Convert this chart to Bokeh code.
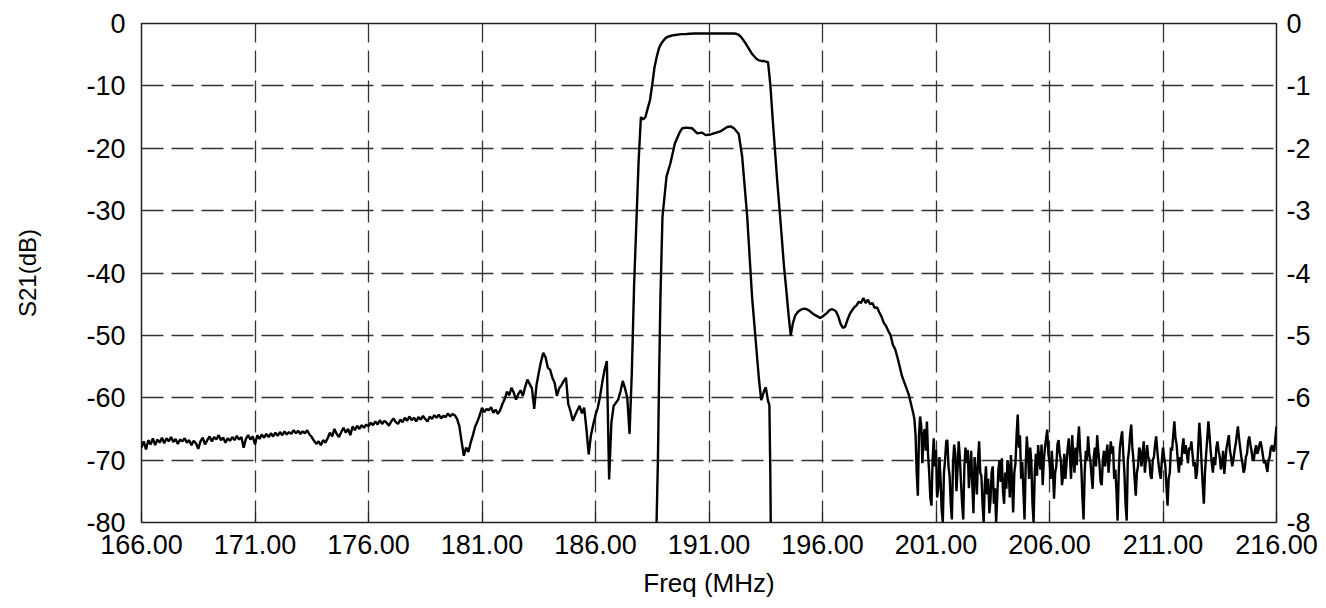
import numpy as np
from bokeh.plotting import figure
from bokeh.models import Range1d, LinearAxis, FixedTicker, PrintfTickFormatter
from bokeh.embed import file_html
from bokeh.resources import INLINE

# ---------------- data ----------------
x_ticks = [166, 171, 176, 181, 186, 191, 196, 201, 206, 211, 216]
y_ticks = [0, -10, -20, -30, -40, -50, -60, -70, -80]
y2_ticks = [0, -1, -2, -3, -4, -5, -6, -7, -8]

# wide sweep S21 (dB): one row per MHz, 0.1 MHz steps, 166.0 ... 199.9
r166 = [-68.0, -67.0, -68.3, -66.8, -67.5, -66.5, -67.6, -66.7, -67.2, -66.4]
r167 = [-67.3, -66.5, -67.0, -66.3, -67.1, -66.6, -67.4, -66.7, -67.0, -66.5]
r168 = [-67.2, -66.8, -67.6, -66.9, -67.3, -68.2, -67.0, -66.4, -67.5, -66.8]
r169 = [-66.2, -67.0, -66.3, -66.7, -66.0, -66.8, -66.4, -67.2, -66.5, -66.9]
r170 = [-66.3, -66.8, -66.1, -66.7, -66.3, -68.0, -66.6, -66.0, -66.7, -66.2]
r171 = [-67.5, -66.0, -66.6, -65.9, -66.4, -65.8, -66.3, -65.7, -66.2, -65.6]
r172 = [-66.1, -65.5, -66.0, -65.4, -65.9, -65.5, -65.8, -65.2, -65.7, -65.3]
r173 = [-65.8, -65.4, -65.7, -65.2, -65.9, -66.3, -66.9, -67.4, -67.0, -67.6]
r174 = [-66.8, -67.2, -66.5, -65.6, -66.2, -65.0, -65.8, -66.3, -65.5, -64.8]
r175 = [-65.6, -65.0, -66.0, -64.6, -65.2, -64.5, -65.0, -64.4, -64.8, -64.3]
r176 = [-64.6, -64.0, -64.4, -63.8, -64.3, -63.6, -64.2, -63.7, -64.0, -64.5]
r177 = [-63.8, -63.3, -63.9, -64.2, -63.5, -63.9, -63.2, -63.7, -63.0, -63.6]
r178 = [-63.2, -63.8, -63.1, -63.5, -62.9, -63.4, -63.8, -63.0, -63.4, -62.8]
r179 = [-63.2, -62.7, -63.3, -62.9, -63.1, -62.5, -63.0, -62.6, -62.8, -63.4]
r180 = [-64.5, -67.0, -69.3, -68.0, -68.7, -67.2, -66.0, -64.6, -63.8, -62.8]
r181 = [-61.6, -62.3, -61.8, -62.0, -61.5, -62.4, -61.9, -62.6, -62.0, -61.0]
r182 = [-60.2, -59.0, -59.6, -58.4, -59.2, -60.3, -59.4, -58.8, -59.7, -58.3]
r183 = [-57.1, -57.8, -58.5, -61.8, -58.0, -56.0, -54.2, -52.8, -53.5, -55.2]
r184 = [-55.5, -56.8, -57.6, -59.7, -58.5, -58.0, -57.3, -56.8, -61.0, -62.2]
r185 = [-63.7, -62.8, -62.0, -61.3, -62.5, -61.6, -65.0, -69.1, -66.0, -64.3]
r186 = [-62.8, -61.6, -59.8, -57.5, -55.5, -54.1, -73.1, -64.0, -61.3, -60.8]
r187 = [-60.3, -59.0, -57.3, -58.5, -60.0, -65.8, -56.0, -42.0, -32.0, -22.0]
r188 = [-15.0, -15.4, -15.0, -13.6, -12.3, -9.8, -7.0, -5.3, -3.9, -3.2]
r189 = [-2.7, -2.3, -2.1, -2.0, -1.9, -1.85, -1.8, -1.75, -1.7, -1.7]
r190 = [-1.7, -1.65, -1.65, -1.6, -1.6, -1.6, -1.6, -1.6, -1.6, -1.6]
r191 = [-1.6, -1.6, -1.6, -1.6, -1.6, -1.6, -1.6, -1.6, -1.6, -1.6]
r192 = [-1.6, -1.6, -1.65, -1.8, -2.1, -2.6, -3.1, -3.7, -4.3, -4.9]
r193 = [-5.3, -5.7, -5.9, -6.0, -6.0, -6.1, -6.2, -9.7, -15.0, -20.0]
r194 = [-25.0, -29.5, -34.0, -38.8, -42.5, -46.5, -50.0, -48.0, -46.8, -46.3]
r195 = [-46.0, -45.8, -45.7, -45.8, -46.0, -46.3, -46.6, -46.8, -47.0, -47.2]
r196 = [-47.0, -46.7, -46.4, -46.0, -45.8, -45.9, -46.2, -47.0, -48.2, -48.8]
r197 = [-48.6, -47.5, -46.6, -46.0, -45.5, -45.2, -44.6, -44.8, -44.0, -44.8]
r198 = [-44.3, -45.0, -44.8, -45.6, -45.5, -46.3, -47.0, -48.0, -48.5, -49.3]
r199 = [-50.0, -51.5, -52.2, -53.5, -55.0, -56.5, -57.5, -58.5, -59.5, -61.0]

# upper stop band S21 (dB): one row per MHz, 0.05 MHz steps, 200.00 ... 216.00
s200 = [-62.5, -63.5, -66.0, -72.0, -75.7, -66.0, -63.0, -64.5, -70.5, -66.0,
        -65.0, -68.5, -63.8, -69.0, -72.0, -76.0, -77.3, -70.0, -66.5, -71.0]
s201 = [-68.4, -76.0, -74.5, -69.5, -73.0, -78.0, -80.0, -72.0, -70.0, -67.0,
        -66.8, -71.0, -72.5, -77.0, -79.5, -70.5, -67.5, -69.0, -75.0, -71.5]
s202 = [-67.0, -69.5, -73.5, -77.0, -79.5, -71.0, -68.0, -70.5, -68.4, -74.5,
        -71.5, -68.5, -74.0, -78.5, -69.5, -72.0, -75.5, -70.0, -67.0, -72.0]
s203 = [-72.5, -77.0, -80.0, -74.0, -71.0, -75.5, -73.0, -78.5, -76.5, -72.0,
        -71.0, -77.0, -74.5, -80.0, -75.7, -71.5, -70.0, -73.5, -69.7, -75.0]
s204 = [-77.0, -72.0, -74.6, -70.0, -71.0, -76.0, -69.2, -73.5, -78.4, -72.0,
        -70.5, -66.0, -62.7, -68.0, -66.0, -73.0, -70.3, -75.0, -79.5, -71.0]
s205 = [-66.2, -69.0, -73.0, -68.0, -70.3, -77.0, -80.0, -72.0, -69.0, -72.5,
        -67.6, -70.0, -71.5, -67.5, -74.0, -70.0, -68.0, -66.5, -65.1, -69.0]
s206 = [-70.3, -73.0, -68.5, -71.5, -76.2, -72.0, -71.0, -67.5, -66.8, -69.0,
        -70.0, -74.0, -72.5, -69.0, -73.0, -70.5, -68.1, -66.5, -69.5, -73.0]
s207 = [-66.0, -69.5, -72.0, -68.0, -70.8, -67.0, -64.6, -68.5, -71.0, -76.0,
        -79.5, -72.0, -68.5, -70.0, -66.2, -69.0, -70.0, -72.5, -74.6, -69.5]
s208 = [-68.0, -71.0, -66.0, -68.5, -70.5, -73.5, -74.0, -70.0, -68.5, -71.0,
        -69.2, -67.5, -72.0, -69.5, -67.0, -69.0, -67.8, -73.0, -71.5, -75.0]
s209 = [-79.7, -72.0, -68.0, -66.5, -65.4, -69.0, -72.0, -77.0, -79.7, -70.0,
        -68.5, -66.0, -64.3, -68.0, -70.0, -73.0, -75.7, -72.0, -71.0, -68.0]
s210 = [-68.5, -71.0, -69.2, -67.0, -72.0, -70.0, -67.6, -69.5, -70.0, -72.5,
        -73.0, -70.0, -69.5, -67.5, -66.2, -68.5, -70.5, -72.0, -73.0, -70.0]
s211 = [-68.0, -69.5, -70.8, -74.0, -77.3, -73.0, -72.0, -68.0, -68.5, -66.0,
        -63.8, -66.5, -67.5, -70.0, -72.0, -69.5, -70.8, -68.0, -66.5, -69.0]
s212 = [-67.6, -69.0, -70.5, -68.0, -68.4, -67.0, -69.0, -71.0, -70.3, -73.0,
        -72.0, -68.0, -64.0, -66.5, -70.5, -74.0, -77.0, -72.0, -69.0, -66.5]
s213 = [-63.8, -66.0, -68.5, -70.5, -72.0, -69.5, -70.8, -68.0, -67.0, -68.5,
        -69.5, -71.5, -70.5, -68.5, -72.2, -70.0, -68.0, -67.0, -66.0, -68.5]
s214 = [-69.5, -71.0, -70.0, -68.5, -67.5, -66.0, -64.6, -66.5, -68.0, -69.5,
        -70.5, -72.0, -71.4, -69.5, -69.0, -67.0, -66.2, -67.5, -68.5, -70.0]
s215 = [-70.0, -68.5, -67.6, -69.0, -68.5, -67.5, -67.0, -68.0, -69.2, -70.5,
        -70.0, -71.0, -71.9, -70.0, -69.5, -68.0, -67.6, -68.5, -68.5, -66.5]
s216 = [-64.6]

pass_rows = [r166, r167, r168, r169, r170, r171, r172, r173, r174, r175,
             r176, r177, r178, r179, r180, r181, r182, r183, r184, r185,
             r186, r187, r188, r189, r190, r191, r192, r193, r194, r195,
             r196, r197, r198, r199]
stop_rows = [s200, s201, s202, s203, s204, s205, s206, s207, s208, s209,
             s210, s211, s212, s213, s214, s215, s216]

low_db = [v for row in pass_rows for v in row]
low_f = [round(166 + 0.1 * i, 2) for i in range(len(low_db))]
stop_db = [v for row in stop_rows for v in row]
stop_f = [round(200 + 0.05 * i, 2) for i in range(len(stop_db))]
wide_f = low_f + stop_f
wide_db = low_db + stop_db

# narrow sweep (second trace)
narrow_f = [188.69, 188.75, 188.80, 188.86, 188.95, 189.13, 189.30, 189.50, 189.70,
            189.82, 190.00, 190.26, 190.48, 190.70, 190.85, 191.05, 191.21, 191.50,
            191.80, 191.95, 192.10, 192.31, 192.46, 192.68, 192.90, 193.05, 193.20,
            193.30, 193.42, 193.50, 193.60, 193.66, 193.70, 193.72]
narrow_db = [-80.0, -70.0, -57.0, -44.0, -31.0, -24.5, -22.4, -19.2, -17.5,
             -16.8, -16.7, -16.8, -17.6, -17.5, -17.9, -17.8, -17.6, -17.3,
             -16.6, -16.5, -16.8, -17.7, -21.3, -30.8, -44.0, -50.5, -57.0,
             -60.4, -59.0, -58.3, -60.5, -61.2, -71.8, -80.0]

# ---------------- figure ----------------
FONT = "Liberation Sans"
p = figure(width=1326, height=608, output_backend="svg", toolbar_location=None,
           x_range=Range1d(166, 216), y_range=Range1d(-80, 0),
           min_border_left=141, min_border_right=50, min_border_top=23,
           min_border_bottom=86)
p.background_fill_color = "white"
p.border_fill_color = "white"
p.outline_line_color = "#222222"
p.outline_line_width = 1.5

p.extra_y_ranges = {"right": Range1d(-8, 0)}

p.xaxis.ticker = FixedTicker(ticks=x_ticks)
p.xaxis.formatter = PrintfTickFormatter(format="%.2f")
p.yaxis.ticker = FixedTicker(ticks=y_ticks)
p.yaxis.formatter = PrintfTickFormatter(format="%d")

ax_r = LinearAxis(y_range_name="right", ticker=FixedTicker(ticks=y2_ticks),
                  formatter=PrintfTickFormatter(format="%d"))
p.add_layout(ax_r, "right")

for ax in [p.xaxis[0], p.yaxis[0], ax_r]:
    ax.axis_line_color = None
    ax.major_label_text_font = FONT
    ax.major_label_text_font_size = "27px"
    ax.major_label_text_color = "black"
    ax.axis_label_text_font = FONT
    ax.axis_label_text_font_style = "normal"
    ax.axis_label_text_color = "black"
    ax.minor_tick_line_color = None
    ax.major_tick_out = 0
    ax.major_tick_in = 0

p.xaxis.major_tick_in = 10
p.xaxis.major_tick_line_color = "#222222"
p.xaxis.major_tick_line_width = 1.2
p.xaxis.major_label_standoff = 12
p.xaxis.axis_label = "Freq (MHz)"
p.xaxis.axis_label_text_font_size = "26px"
p.xaxis.axis_label_standoff = 11

p.yaxis[0].major_label_standoff = 16
p.yaxis[0].axis_label = "S21(dB)"
p.yaxis[0].axis_label_text_font_size = "24px"
p.yaxis[0].axis_label_standoff = 42
ax_r.major_label_standoff = 10

p.xgrid.ticker = FixedTicker(ticks=x_ticks)
p.ygrid.ticker = FixedTicker(ticks=y_ticks)
for g in [p.xgrid[0], p.ygrid[0]]:
    g.grid_line_color = "#333333"
    g.grid_line_width = 1.3
    g.grid_line_dash = "22 8"

p.line(wide_f, wide_db, line_color="black", line_width=2.4)
p.line(narrow_f, narrow_db, line_color="black", line_width=2.4)

open("out.html", "w").write(file_html(p, INLINE))
